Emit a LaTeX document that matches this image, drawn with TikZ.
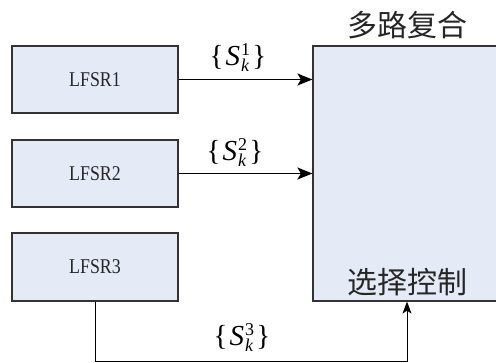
\documentclass[tikz,border=0pt]{standalone}
\usepackage{fontspec}
\setmainfont{Liberation Serif}
\newfontfamily\boxfont[FakeStretch=0.85]{Liberation Serif}
\newfontfamily\cjk{Noto Sans CJK SC}
\usetikzlibrary{arrows.meta}

\tikzset{
  blockbox/.style={draw=black!80, line width=1.2pt, fill=boxfill,
    inner sep=0pt, font=\boxfont\fontsize{21}{24}\selectfont, text=black!85},
  flow/.style={line width=1.5pt,
    -{Stealth[length=15pt,width=12pt,inset=3.5pt]}},
  thinflow/.style={line width=1pt,
    -{Stealth[length=12pt,width=9pt,inset=3pt]}},
  seqlabel/.style={inner sep=0pt, font=\fontsize{29}{34}\selectfont},
  cjklabel/.style={inner sep=0pt, font=\cjk\fontsize{30}{34}\selectfont, text=black!85}
}
\definecolor{boxfill}{RGB}{229,235,246}

% sequence symbol {S_k^i}: index stacked over the subscript k
\newcommand{\idxfont}{\fontsize{18}{18}\selectfont}
\newcommand{\seqsym}[1]{\{\hspace{2pt}\textit{S}\hspace{1pt}%
  \rlap{\raisebox{10pt}{\idxfont #1}}\raisebox{-6pt}{\idxfont\textit{k}}\hspace{3pt}\}}

\begin{document}
\begin{tikzpicture}[x=1pt, y=-1pt]
  \useasboundingbox (0,0) rectangle (496,363);
  \clip (0,0) rectangle (496,363);

  % shift registers
  \node[blockbox, minimum width=166pt, minimum height=67pt] (L1) at (95,79.5) {LFSR1};
  \node[blockbox, minimum width=166pt, minimum height=67pt] (L2) at (95,173.5) {LFSR2};
  \node[blockbox, minimum width=166pt, minimum height=68pt] (L3) at (95,267) {LFSR3};

  % multiplexer
  \node[blockbox, minimum width=188pt, minimum height=255pt] (M) at (407,173.5) {};
  \node[cjklabel] (mtitle) at (407,25) {多路复合};
  \node[cjklabel] (mctrl) at (407,282) {选择控制};

  % data paths
  \draw[flow] (L1.east) -- (L1.east -| M.west);
  \draw[flow] (L2.east) -- (L2.east -| M.west);
  \draw[thinflow] (L3.south) -- ++(0,60) -| (M.south);

  \node[seqlabel] (s1) at (238,58) {\seqsym{1}};
  \node[seqlabel] (s2) at (235,153) {\seqsym{2}};
  \node[seqlabel] (s3) at (242,338) {\seqsym{3}};
\end{tikzpicture}
\end{document}
